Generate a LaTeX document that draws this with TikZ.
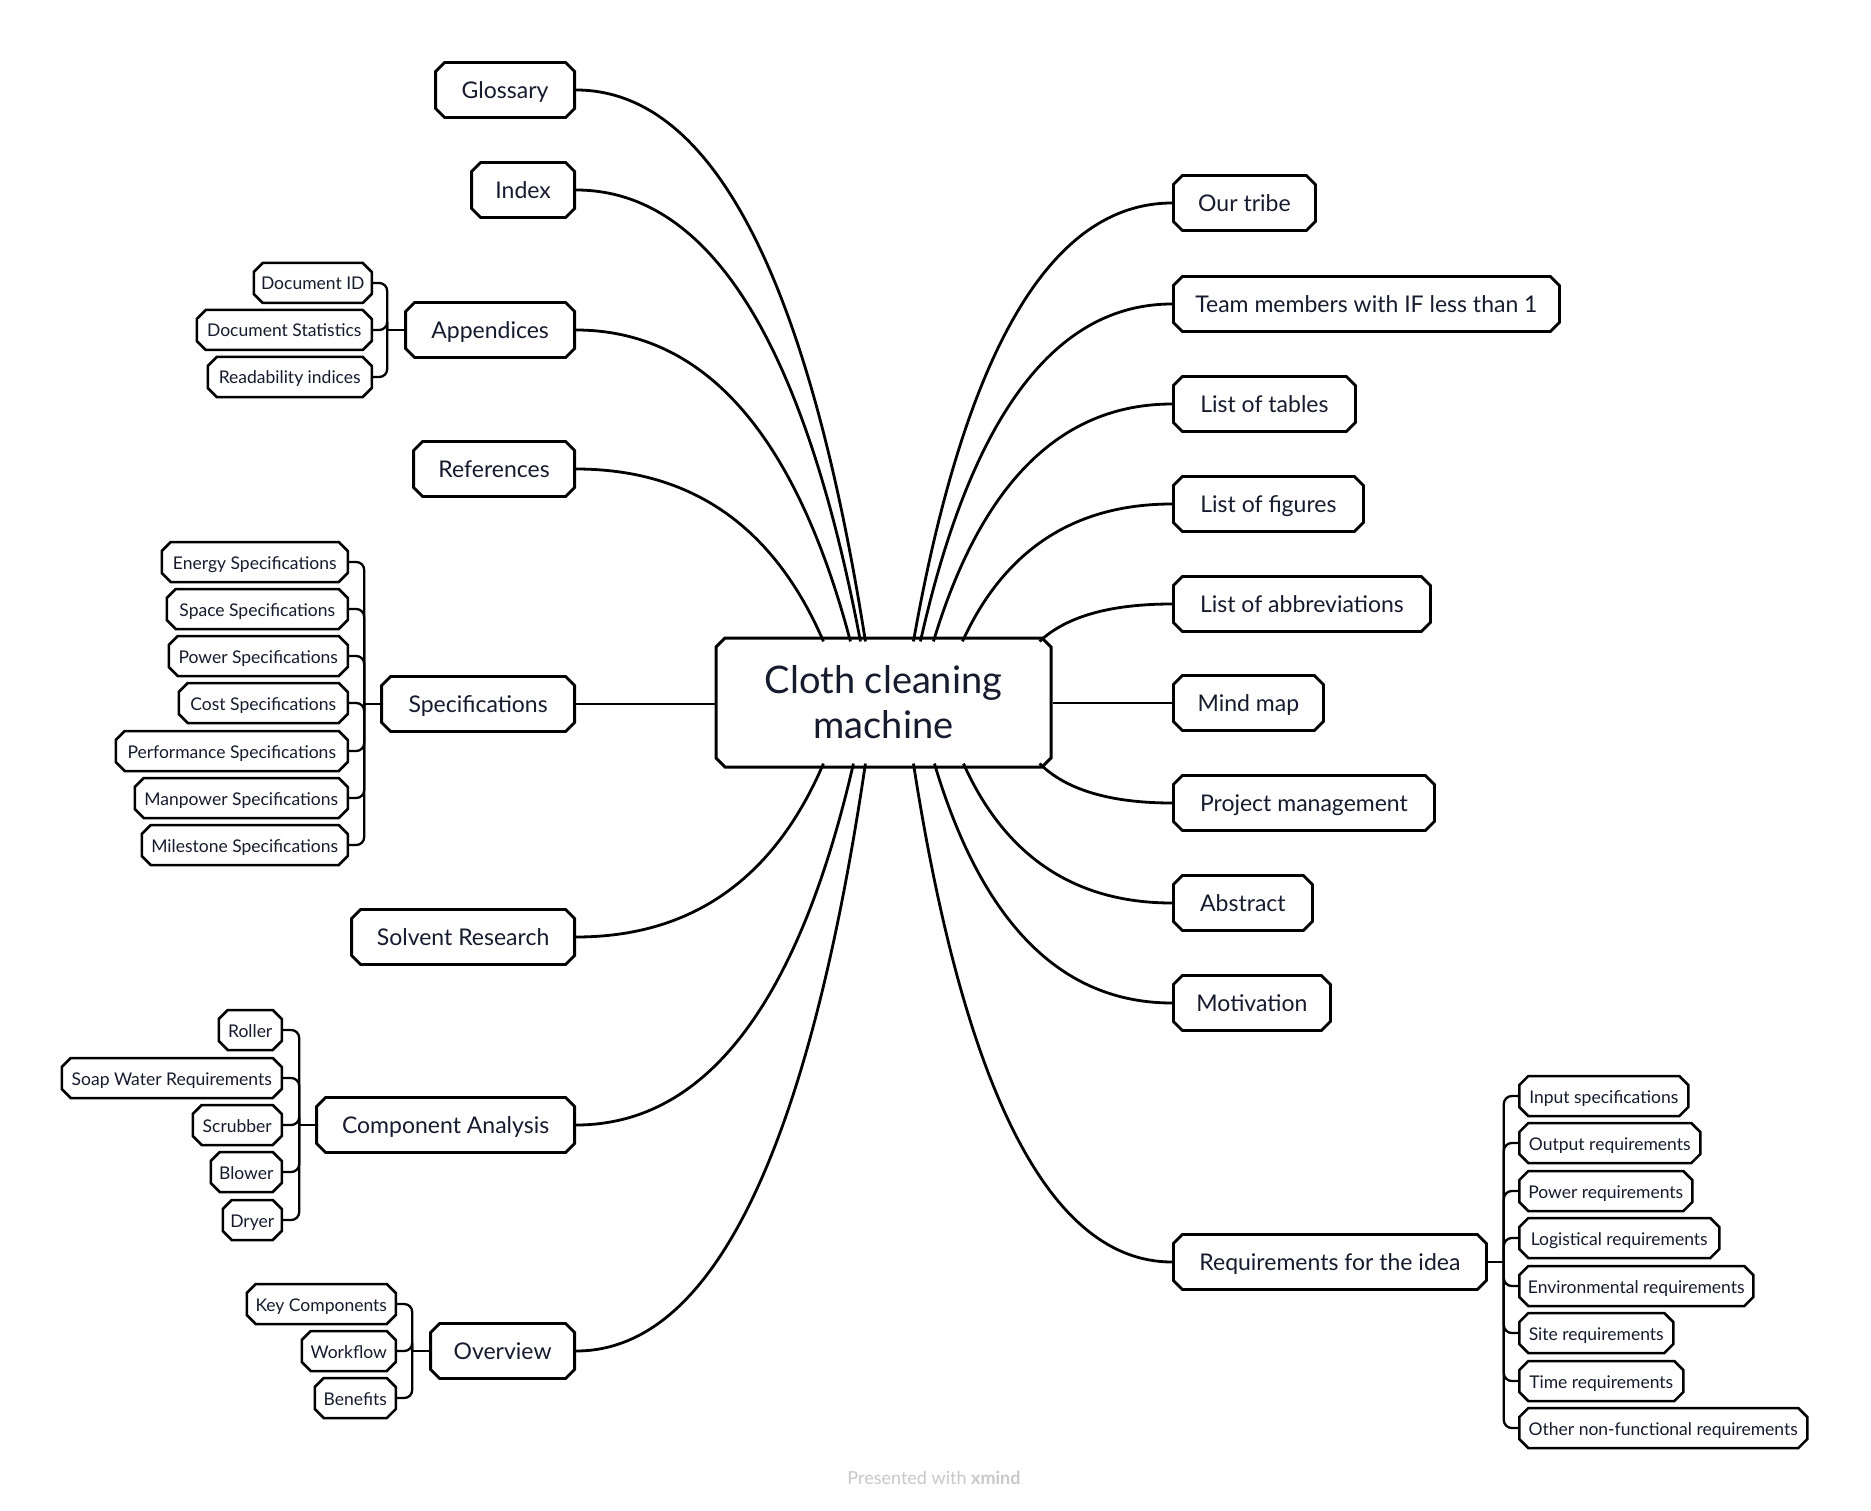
\documentclass[tikz,border=0pt]{standalone}
\usepackage{fontspec}
\setmainfont{Lato}
\usetikzlibrary{shapes.misc,calc}
\definecolor{txt}{RGB}{22,27,45}
\definecolor{foot}{RGB}{200,200,200}
\newcommand\mmbranch[2]{%
  \coordinate (qq) at ($(#2 |- #1)!0.3!(#1)$);
  \draw[conn] (#1) .. controls ($(#1)!0.6667!(qq)$) and ($(#2)!0.6667!(qq)$) .. (#2);}
\begin{document}
\begin{tikzpicture}[x=1pt,y=-1pt,
  box/.style={chamfered rectangle, chamfered rectangle sep=4.5pt, draw=black, fill=white,
    line width=2.8pt, inner sep=0pt, text=txt, text height=1.6em, text depth=0.2em},
  mainbox/.style={box, minimum height=55pt, text height=1.72em, text depth=0pt, font=\fontsize{23}{28}\selectfont},
  lbox/.style={mainbox, anchor=east},
  rbox/.style={mainbox, anchor=west},
  subbox/.style={box, minimum height=40pt, line width=2.5pt, font=\fontsize{17.5}{21}\selectfont},
  lsub/.style={subbox, anchor=east},
  rsub/.style={subbox, anchor=west},
  conn/.style={line width=2.8pt, black},
  subconn/.style={line width=2.3pt, black, rounded corners=8pt}]
\fill[white] (0,0) rectangle (1871,1511);
\useasboundingbox (0,0) rectangle (1871,1511);

% centre
\node[box, line width=3pt, minimum width=335pt, minimum height=129pt, align=center,
  text height=, text depth=, font=\fontsize{38}{45}\selectfont] (cn) at (883.5,702.5) {Cloth cleaning\\machine};

% left main
\node[lbox, minimum width=139pt] (gl) at (576,90) {Glossary};
\node[lbox, minimum width=103pt] (ix) at (576,190) {Index};
\node[lbox, minimum width=169pt] (ap) at (576,330) {Appendices};
\node[lbox, minimum width=161pt] (rf) at (576,469) {References};
\node[lbox, minimum width=193pt] (sp) at (576,704) {Specifications};
\node[lbox, minimum width=223pt] (sr) at (576,937) {Solvent Research};
\node[lbox, minimum width=258pt] (ca) at (576,1125) {Component Analysis};
\node[lbox, minimum width=144pt] (ov) at (576,1351) {Overview};

% right main
\node[rbox, minimum width=142pt] (ot) at (1172,203) {Our tribe};
\node[rbox, minimum width=386pt] (tm) at (1172,304) {Team members with IF less than 1};
\node[rbox, minimum width=182pt] (lt) at (1172,404) {List of tables};
\node[rbox, minimum width=190pt] (lf) at (1172,504) {List of figures};
\node[rbox, minimum width=257pt] (la) at (1172,604) {List of abbreviations};
\node[rbox, minimum width=150pt] (mm) at (1172,703) {Mind map};
\node[rbox, minimum width=261pt] (pm) at (1172,803) {Project management};
\node[rbox, minimum width=139pt] (ab) at (1172,903) {Abstract};
\node[rbox, minimum width=157pt] (mo) at (1172,1003) {Motivation};
\node[rbox, minimum width=313pt] (rq) at (1172,1262) {Requirements for the idea};

% appendices children
\node[lsub, minimum width=118pt] (a1) at (373,283) {Document ID};
\node[lsub, minimum width=175pt] (a2) at (373,330) {Document Statistics};
\node[lsub, minimum width=164pt] (a3) at (373,377) {Readability indices};

% specifications children
\node[lsub, minimum width=186pt] (s1) at (349,562) {Energy Specifications};
\node[lsub, minimum width=181pt] (s2) at (349,609) {Space Specifications};
\node[lsub, minimum width=179pt] (s3) at (349,656) {Power Specifications};
\node[lsub, minimum width=169pt] (s4) at (349,703) {Cost Specifications};
\node[lsub, minimum width=232pt] (s5) at (349,751) {Performance Specifications};
\node[lsub, minimum width=213pt] (s6) at (349,798) {Manpower Specifications};
\node[lsub, minimum width=206pt] (s7) at (349,845) {Milestone Specifications};

% component analysis children
\node[lsub, minimum width=63pt] (c1) at (283,1030) {Roller};
\node[lsub, minimum width=220pt] (c2) at (283,1078) {Soap Water Requirements};
\node[lsub, minimum width=89pt] (c3) at (283,1125) {Scrubber};
\node[lsub, minimum width=71pt] (c4) at (283,1172) {Blower};
\node[lsub, minimum width=59pt] (c5) at (283,1220) {Dryer};

% overview children
\node[lsub, minimum width=149pt] (o1) at (397,1304) {Key Components};
\node[lsub, minimum width=94pt] (o2) at (397,1351) {Workflow};
\node[lsub, minimum width=81pt] (o3) at (397,1398) {Benefits};

% requirements children
\node[rsub, minimum width=169pt] (r1) at (1518,1096) {Input specifications};
\node[rsub, minimum width=181pt] (r2) at (1518,1143) {Output requirements};
\node[rsub, minimum width=173pt] (r3) at (1518,1191) {Power requirements};
\node[rsub, minimum width=200pt] (r4) at (1518,1238) {Logistical requirements};
\node[rsub, minimum width=234pt] (r5) at (1518,1286) {Environmental requirements};
\node[rsub, minimum width=154pt] (r6) at (1518,1333) {Site requirements};
\node[rsub, minimum width=164pt] (r7) at (1518,1381) {Time requirements};
\node[rsub, minimum width=288pt] (r8) at (1518,1428) {Other non-functional requirements};

% footer
\node[font=\fontsize{18}{20}\selectfont, text=foot] (ft) at (934,1478) {Presented with \textbf{xmind}};

% start points on the centre node
\coordinate (tGl) at ($(cn.north west)+(146,0)$);
\coordinate (tIx) at ($(cn.north west)+(141,0)$);
\coordinate (tAp) at ($(cn.north west)+(131,0)$);
\coordinate (tRf) at ($(cn.north west)+(104,0)$);
\coordinate (tOt) at ($(cn.north west)+(194,0)$);
\coordinate (tTm) at ($(cn.north west)+(201,0)$);
\coordinate (tLt) at ($(cn.north west)+(214,0)$);
\coordinate (tLf) at ($(cn.north west)+(243,0)$);
\coordinate (tLa) at ($(cn.north east)+(-8,0)$);
\coordinate (bSr) at ($(cn.south west)+(104,0)$);
\coordinate (bCa) at ($(cn.south west)+(134,0)$);
\coordinate (bOv) at ($(cn.south west)+(146,0)$);
\coordinate (bRq) at ($(cn.south west)+(194,0)$);
\coordinate (bMo) at ($(cn.south west)+(215,0)$);
\coordinate (bAb) at ($(cn.south west)+(244,0)$);
\coordinate (bPm) at ($(cn.south east)+(-8,0)$);

% main branches
\mmbranch{gl.east}{tGl}
\mmbranch{ix.east}{tIx}
\mmbranch{ap.east}{tAp}
\mmbranch{rf.east}{tRf}
\draw[conn] (sp.east) -- (cn.west |- sp.east);
\mmbranch{sr.east}{bSr}
\mmbranch{ca.east}{bCa}
\mmbranch{ov.east}{bOv}
\mmbranch{ot.west}{tOt}
\mmbranch{tm.west}{tTm}
\mmbranch{lt.west}{tLt}
\mmbranch{lf.west}{tLf}
\mmbranch{la.west}{tLa}
\draw[conn] (cn.east |- mm.west) -- (mm.west);
\mmbranch{pm.west}{bPm}
\mmbranch{ab.west}{bAb}
\mmbranch{mo.west}{bMo}
\mmbranch{rq.west}{bRq}

% sub branches
\coordinate (jAp) at ($(ap.west)+(-17,0)$);
\draw[subconn] (ap.west) -- (jAp);
\foreach \c in {a1,a2,a3} \draw[subconn] (jAp) |- (\c.east);

\coordinate (jSp) at ($(sp.west)+(-16,0)$);
\draw[subconn] (sp.west) -- (jSp);
\foreach \c in {s1,s2,s3,s4,s5,s6,s7} \draw[subconn] (jSp) |- (\c.east);

\coordinate (jCa) at ($(ca.west)+(-16,0)$);
\draw[subconn] (ca.west) -- (jCa);
\foreach \c in {c1,c2,c3,c4,c5} \draw[subconn] (jCa) |- (\c.east);

\coordinate (jOv) at ($(ov.west)+(-17,0)$);
\draw[subconn] (ov.west) -- (jOv);
\foreach \c in {o1,o2,o3} \draw[subconn] (jOv) |- (\c.east);

\coordinate (jRq) at ($(rq.east)+(16,0)$);
\draw[subconn] (rq.east) -- (jRq);
\foreach \c in {r1,r2,r3,r4,r5,r6,r7,r8} \draw[subconn] (jRq) |- (\c.west);
\end{tikzpicture}
\end{document}
